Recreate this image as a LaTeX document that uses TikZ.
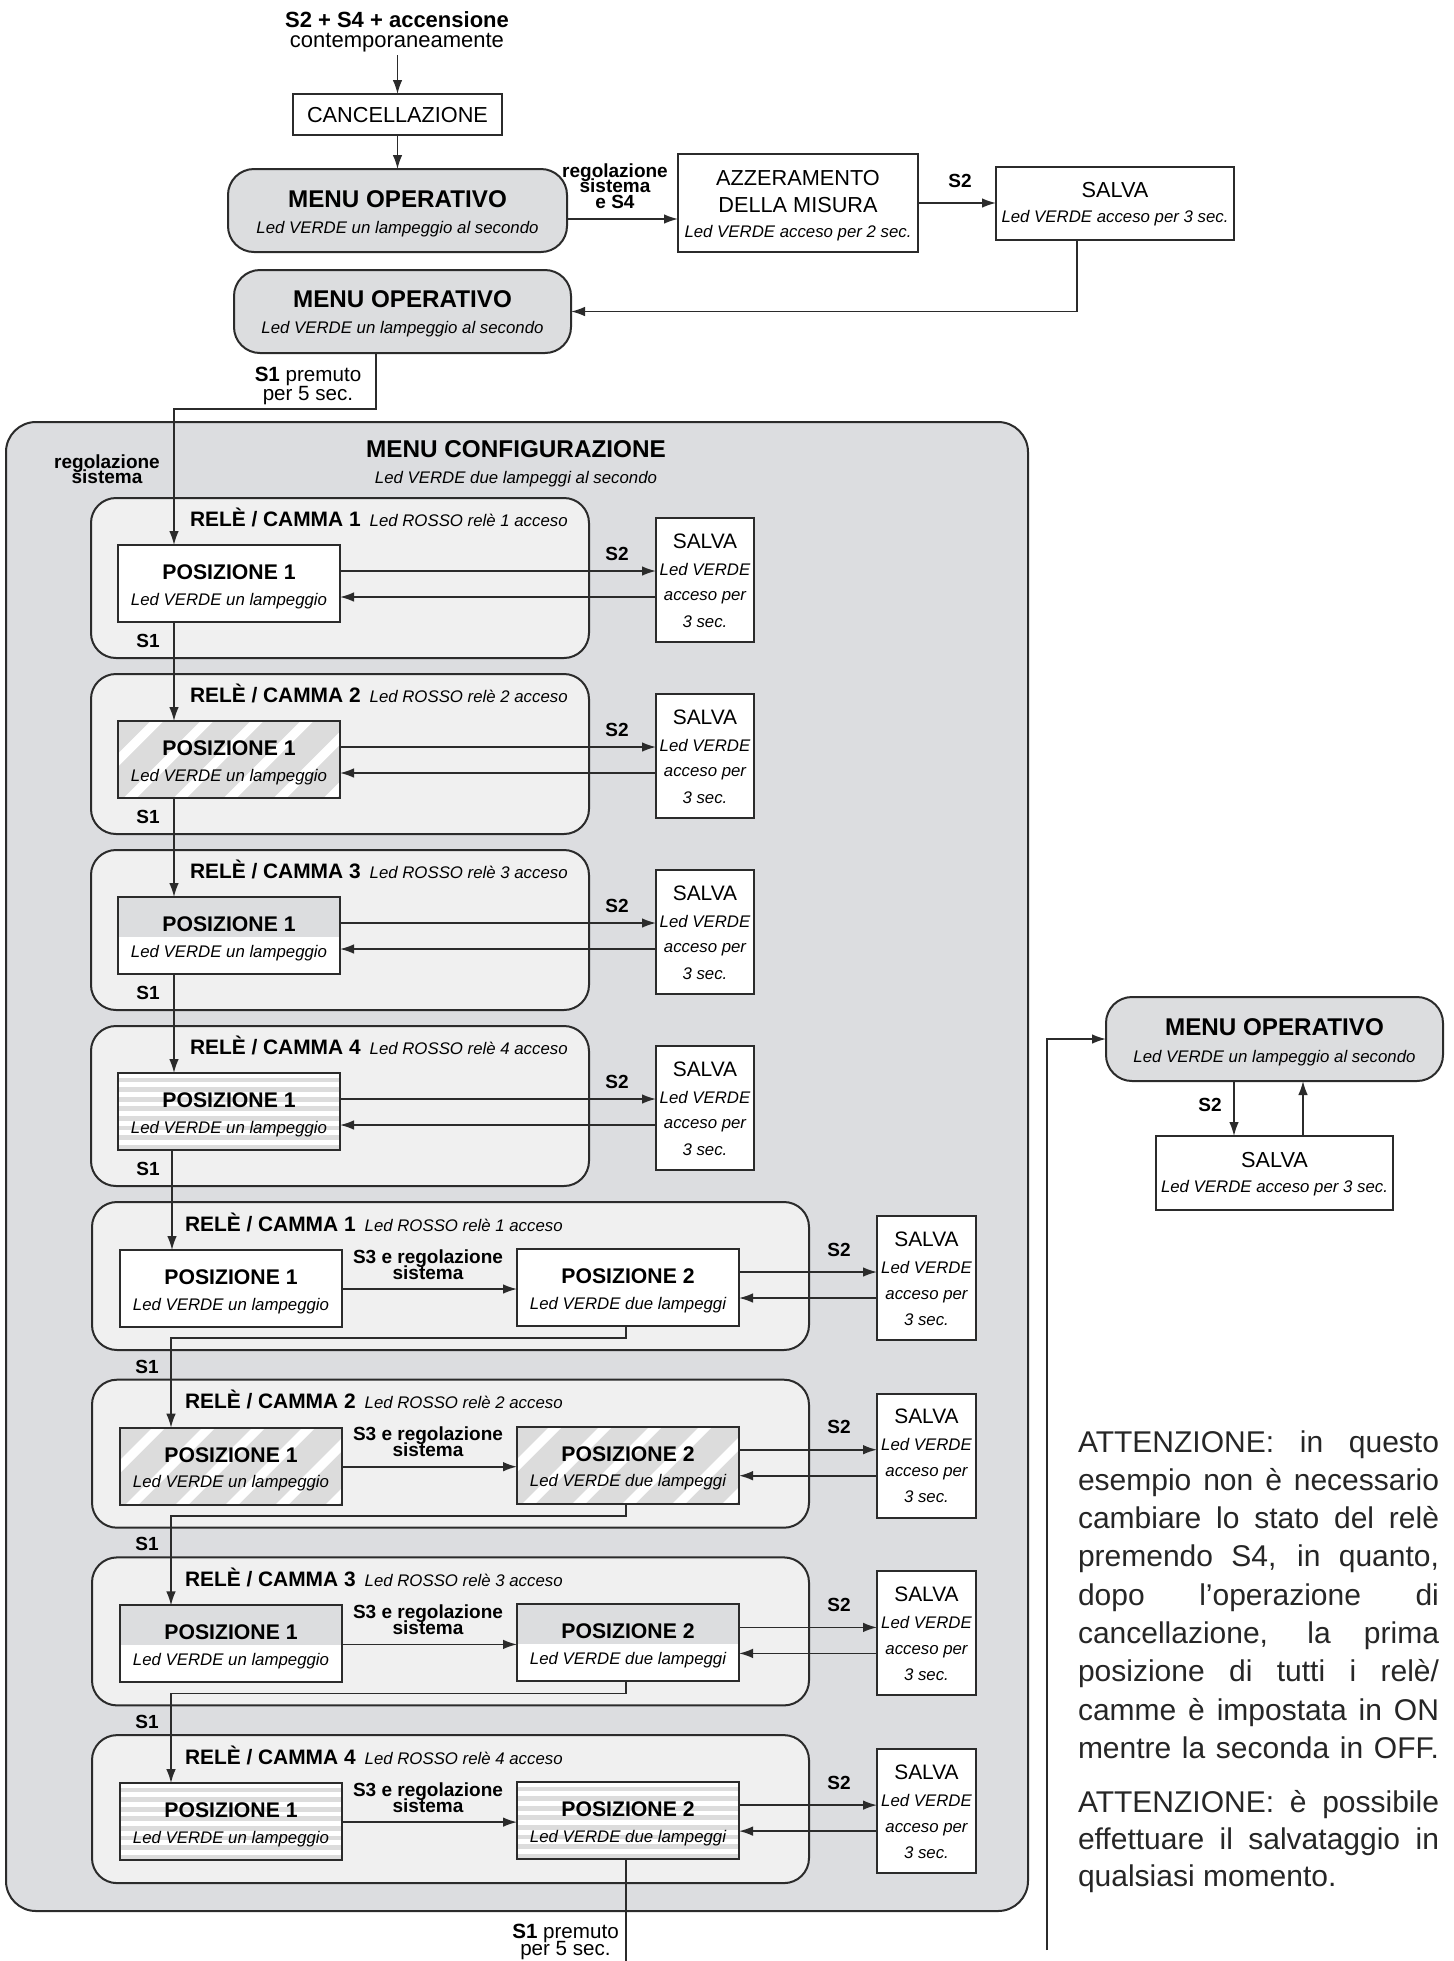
\documentclass[tikz,border=0pt]{standalone}
\usepackage{fontspec}
\setmainfont{Liberation Sans}
\usetikzlibrary{arrows.meta,fit}
\definecolor{bordc}{HTML}{2B2B2B}
\definecolor{outerg}{HTML}{DCDDE0}
\definecolor{groupg}{HTML}{F0F0F0}
\definecolor{menug}{HTML}{DCDDDF}
\definecolor{stripeg}{HTML}{DCDCDC}
\definecolor{atttext}{HTML}{262626}
\newcommand\frt{\fontsize{10.45}{12}\selectfont\bfseries}
\newcommand\fitx{\fontsize{8.4}{10}\selectfont\itshape}
\tikzset{
 every node/.style={inner sep=0pt, outer sep=0pt},
 bx/.style={draw=bordc, line width=1pt},
 grp/.style={draw=bordc, line width=1pt, fill=groupg, rounded corners=12.5pt},
 menubox/.style={draw=bordc, line width=1pt, fill=menug, rounded corners=13pt},
 arr/.style={draw=bordc, line width=0.8pt, -{Latex[length=7pt,width=4.8pt]}},
 ln/.style={draw=bordc, line width=0.8pt},
 ftop/.style={font=\fontsize{11}{13}\selectfont},
 ftopb/.style={font=\fontsize{11}{13}\selectfont\bfseries},
 fcap/.style={font=\fontsize{10.85}{13}\selectfont},
 itx/.style={font=\fontsize{8.4}{10}\selectfont\itshape},
 mt/.style={font=\fontsize{12.1}{14}\selectfont\bfseries},
 ct/.style={font=\fontsize{12.15}{14}\selectfont\bfseries},
 post/.style={font=\fontsize{10.6}{12}\selectfont\bfseries},
 lbl/.style={font=\fontsize{9.5}{11}\selectfont\bfseries},
 sv/.style={font=\fontsize{10.45}{12}\selectfont},
 prem/.style={font=\fontsize{10.3}{12}\selectfont},
 att/.style={font=\fontsize{15}{19}\selectfont, text=atttext},
}
\newcommand\fitbox[6]{\node[fit={(#2,#3) (#4,#5)}, #6] (#1) {};}
\newcommand\txt[5]{\node[#4, anchor=base] (#1) at (#2,#3) {#5};}
\newcommand\posbox[6]{%
 \pgfmathsetmacro\pxa{#2}\pgfmathsetmacro\pya{#3}%
 \pgfmathsetmacro\pxb{#2+222}\pgfmathsetmacro\pyb{#3+77}%
 \begin{scope}
  \clip (\pxa,\pya) rectangle (\pxb,\pyb);
  \fill[white] (\pxa,\pya) rectangle (\pxb,\pyb);
  \ifcase#4\relax
  \or
   \fill[stripeg] (\pxa,\pya) rectangle (\pxb,\pyb);
   \foreach \i in {-2,...,4}{\draw[white, line width=4.6pt] (\pxa+7+50*\i,\pyb+5) -- ++(100,-100);}
  \or
   \fill[menug] (\pxa,\pya) rectangle (\pxb,\pya+40);
  \or
   \foreach \i in {0,...,7}{\fill[stripeg] (\pxa,\pya+4.5+9.6*\i) rectangle (\pxb,\pya+9.3+9.6*\i);}
  \fi
 \end{scope}
 \node[fit={(\pxa,\pya) (\pxb,\pyb)}, bx] (#1) {};
 \node[post, anchor=base] (#1-t) at (\pxa+111,\pya+34.5) {#5};
 \node[itx, anchor=base] (#1-s) at (\pxa+111,\pya+60) {#6};
}
\begin{document}
\begin{tikzpicture}[x=0.5pt,y=-0.5pt]
\useasboundingbox (0,0) rectangle (1453,1961);
\fill[white] (0,0) rectangle (1453,1961);

% ---------- top ----------
\txt{top1}{397}{27}{ftopb}{S2 + S4 + accensione}
\txt{top2}{397}{47}{ftop}{contemporaneamente}
\coordinate (tstart) at (397.5,55);
\fitbox{canc}{293}{94}{502}{135}{bx, fill=white}
\txt{canct}{397.5}{122}{fcap}{CANCELLAZIONE}

\fitbox{mo1}{228}{169}{567}{252}{menubox}
\txt{mo1a}{397.5}{207}{mt}{MENU OPERATIVO}
\txt{mo1b}{397.5}{233}{itx}{Led VERDE un lampeggio al secondo}

\txt{rg1}{615}{177}{lbl}{regolazione}
\txt{rg2}{615}{192.5}{lbl}{sistema}
\txt{rg3}{615}{208}{lbl}{e S4}

\fitbox{azz}{678}{154}{918}{252}{bx, fill=white}
\txt{az1}{798}{185}{fcap}{AZZERAMENTO}
\txt{az2}{798}{212}{fcap}{DELLA MISURA}
\txt{az3}{798}{237}{itx}{Led VERDE acceso per 2 sec.}

\txt{s2a}{960}{187}{lbl}{S2}
\fitbox{sv0}{996}{167}{1234}{240}{bx, fill=white}
\txt{sv0a}{1115}{197}{fcap}{SALVA}
\txt{sv0b}{1115}{222}{itx}{Led VERDE acceso per 3 sec.}

\fitbox{mo2}{234}{270}{571}{353}{menubox}
\txt{mo2a}{402.5}{307}{mt}{MENU OPERATIVO}
\txt{mo2b}{402.5}{333}{itx}{Led VERDE un lampeggio al secondo}

\txt{prem1}{308}{381}{prem}{\textbf{S1} premuto}
\txt{prem2}{308}{400}{prem}{per 5 sec.}

% ---------- menu configurazione ----------
\fitbox{mc}{6}{422}{1028}{1911}{bx, fill=outerg, rounded corners=15pt}
\txt{mct}{516}{457}{ct}{MENU CONFIGURAZIONE}
\txt{mcs}{516}{483}{itx}{Led VERDE due lampeggi al secondo}
\txt{rs1}{107}{468}{lbl}{regolazione}
\txt{rs2}{107}{483.5}{lbl}{sistema}

% upper groups
\foreach \k/\pat in {1/0,2/1,3/2,4/3}{
 \pgfmathsetmacro\T{498+176*(\k-1)}
 \node[fit={(91,\T) (589,\T+160)}, grp] (g\k) {};
 \node[anchor=base west] (g\k-t) at (190,\T+28) {{\frt RELÈ / CAMMA \k}\hspace{4.5pt}{\fitx Led ROSSO relè \k{} acceso}};
 \posbox{p\k}{118}{\T+47}{\pat}{POSIZIONE 1}{Led VERDE un lampeggio}
 \node[fit={(656,\T+20) (754,\T+144)}, bx, fill=white] (s\k) {};
 \node[sv, anchor=base] (s\k-a) at (705,\T+50) {SALVA};
 \node[itx, anchor=base] (s\k-b) at (705,\T+77) {Led VERDE};
 \node[itx, anchor=base] (s\k-c) at (705,\T+102) {acceso per};
 \node[itx, anchor=base] (s\k-d) at (705,\T+129) {3 sec.};
 \node[lbl, anchor=base] (s2u\k) at (617,\T+62) {S2};
 \node[lbl, anchor=base] (s1u\k) at (148,\T+149) {S1};
 \draw[arr] (p\k.east |- 0,\T+73) -- (s\k.west |- 0,\T+73);
 \draw[arr] (s\k.west |- 0,\T+99) -- (p\k.east |- 0,\T+99);
}

% lower groups
\foreach \k/\pat in {1/0,2/1,3/2,4/3}{
 \pgfmathsetmacro\T{1202+177.7*(\k-1)}
 \node[fit={(92,\T) (809,\T+148)}, grp] (h\k) {};
 \node[anchor=base west] (h\k-t) at (185,\T+29) {{\frt RELÈ / CAMMA \k}\hspace{4.5pt}{\fitx Led ROSSO relè \k{} acceso}};
 \posbox{qa\k}{120}{\T+48}{\pat}{POSIZIONE 1}{Led VERDE un lampeggio}
 \posbox{qb\k}{517}{\T+47}{\pat}{POSIZIONE 2}{Led VERDE due lampeggi}
 \node[lbl, anchor=base] (s3a\k) at (428,\T+61) {S3 e regolazione};
 \node[lbl, anchor=base] (s3b\k) at (428,\T+77) {sistema};
 \draw[arr] (qa\k.east |- 0,\T+87) -- (qb\k.west |- 0,\T+87);
 \node[fit={(877,\T+14) (976,\T+138)}, bx, fill=white] (t\k) {};
 \node[sv, anchor=base] (t\k-a) at (926.5,\T+44) {SALVA};
 \node[itx, anchor=base] (t\k-b) at (926.5,\T+71) {Led VERDE};
 \node[itx, anchor=base] (t\k-c) at (926.5,\T+97) {acceso per};
 \node[itx, anchor=base] (t\k-d) at (926.5,\T+123) {3 sec.};
 \node[lbl, anchor=base] (s2l\k) at (839,\T+54) {S2};
 \draw[arr] (qb\k.east |- 0,\T+70) -- (t\k.west |- 0,\T+70);
 \draw[arr] (t\k.west |- 0,\T+96) -- (qb\k.east |- 0,\T+96);
}
\foreach \k in {1,2,3}{
 \pgfmathsetmacro\T{1202+177.7*(\k-1)}
 \node[lbl, anchor=base] (s1l\k) at (147,\T+171) {S1};
}

% ---------- connectors ----------
\draw[arr] (tstart) -- (tstart |- canc.north);
\draw[arr] (canc.south) -- (mo1.north);
\draw[arr] (mo1.east |- 0,219) -- (azz.west |- 0,219);
\draw[arr] (azz.east |- 0,203) -- (sv0.west |- 0,203);
\draw[arr] (sv0.south -| 1077,0) |- (mo2.east);
\draw[arr] (mo2.south -| 376,0) -- (376,409) -| (p1.north -| 174,0);
\foreach \k [evaluate=\k as \n using int(\k+1)] in {1,2,3}{
 \draw[arr] (p\k.south -| 174,0) -- (p\n.north -| 174,0);
}
\draw[arr] (p4.south -| 172,0) -- (qa1.north -| 172,0);
\foreach \k [evaluate=\k as \n using int(\k+1)] in {1,2,3}{
 \pgfmathsetmacro\T{1202+177.7*(\k-1)}
 \draw[arr] (qb\k.south -| 626,0) -- (626,\T+136) -| (qa\n.north -| 171,0);
}
\coordinate (bend) at (626,1975);
\draw[ln] (qb4.south -| 626,0) -- (bend);
\node[prem, anchor=base] (prem3) at (565.5,1938) {\textbf{S1} premuto};
\node[prem, anchor=base] (prem4) at (565.5,1955) {per 5 sec.};

% ---------- right side ----------
\fitbox{mo3}{1106}{997}{1443}{1081}{menubox}
\txt{mo3a}{1274.5}{1035}{mt}{MENU OPERATIVO}
\txt{mo3b}{1274.5}{1062}{itx}{Led VERDE un lampeggio al secondo}
\fitbox{sv3}{1156}{1136}{1393}{1210}{bx, fill=white}
\txt{sv3a}{1274.5}{1167}{fcap}{SALVA}
\txt{sv3b}{1274.5}{1192}{itx}{Led VERDE acceso per 3 sec.}
\txt{s2r}{1210}{1111}{lbl}{S2}
\coordinate (rbot) at (1047,1950);
\draw[arr] (rbot) |- (mo3.west);
\draw[arr] (mo3.south -| 1234,0) -- (sv3.north -| 1234,0);
\draw[arr] (sv3.north -| 1303,0) -- (mo3.south -| 1303,0);

% ---------- note ----------
\node[att, anchor=base west] (at1) at (1078,1452) {\makebox[180.5pt][s]{ATTENZIONE: in questo}};
\node[att, anchor=base west] (at2) at (1078,1490.3) {\makebox[180.5pt][s]{esempio non è necessario}};
\node[att, anchor=base west] (at3) at (1078,1528.6) {\makebox[180.5pt][s]{cambiare lo stato del relè}};
\node[att, anchor=base west] (at4) at (1078,1566.9) {\makebox[180.5pt][s]{premendo S4, in quanto,}};
\node[att, anchor=base west] (at5) at (1078,1605.2) {\makebox[180.5pt][s]{dopo l’operazione di}};
\node[att, anchor=base west] (at6) at (1078,1643.5) {\makebox[180.5pt][s]{cancellazione, la prima}};
\node[att, anchor=base west] (at7) at (1078,1681.8) {\makebox[180.5pt][s]{posizione di tutti i relè/}};
\node[att, anchor=base west] (at8) at (1078,1720.1) {\makebox[180.5pt][s]{camme è impostata in ON}};
\node[att, anchor=base west] (at9) at (1078,1758.4) {\makebox[180.5pt][s]{mentre la seconda in OFF.}};
\node[att, anchor=base west] (at10) at (1078,1812) {\makebox[180.5pt][s]{ATTENZIONE: è possibile}};
\node[att, anchor=base west] (at11) at (1078,1849) {\makebox[180.5pt][s]{effettuare il salvataggio in}};
\node[att, anchor=base west] (at12) at (1078,1886) {qualsiasi momento.};
\end{tikzpicture}
\end{document}
